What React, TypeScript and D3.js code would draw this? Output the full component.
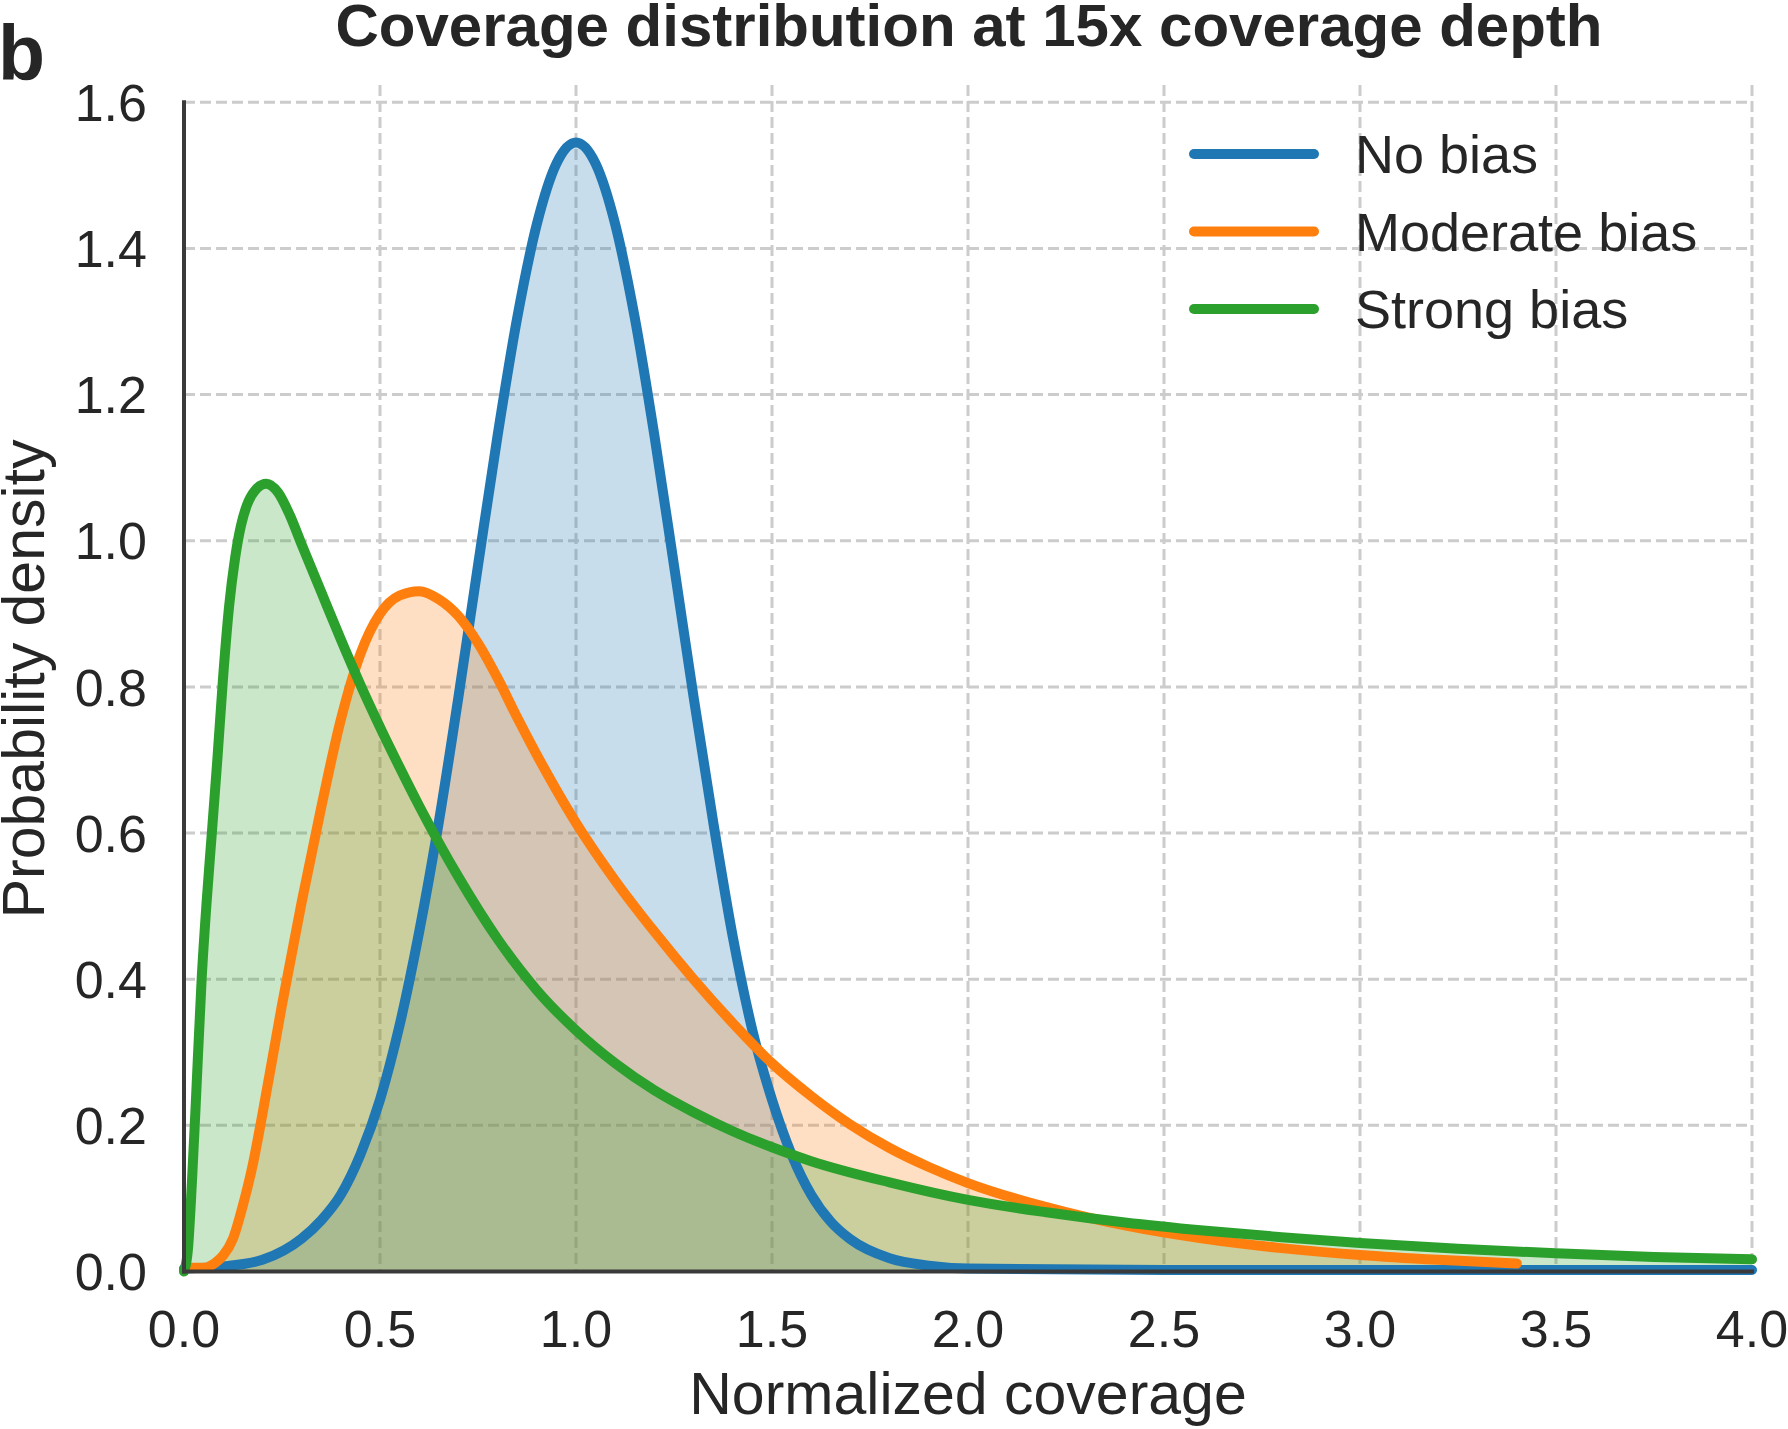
import * as d3 from 'd3'

// values
const noBiasX = [0, 0.1, 0.2, 0.3, 0.35, 0.4, 0.45, 0.5, 0.55, 0.6, 0.65, 0.7, 0.75, 0.8, 0.85, 0.9, 0.95, 1.0, 1.05, 1.1, 1.15, 1.2, 1.25, 1.3, 1.35, 1.4, 1.45, 1.5, 1.55, 1.6, 1.65, 1.7, 1.8, 1.9, 2.0, 2.5, 3.0, 3.5, 4.0]
const noBiasY = [0.004, 0.007, 0.016, 0.045, 0.07, 0.105, 0.16, 0.235, 0.337, 0.465, 0.615, 0.786, 0.966, 1.144, 1.305, 1.433, 1.516, 1.545, 1.516, 1.433, 1.305, 1.144, 0.966, 0.786, 0.615, 0.458, 0.33, 0.235, 0.16, 0.105, 0.068, 0.044, 0.018, 0.008, 0.004, 0.002, 0.002, 0.002, 0.002]

const moderateX = [0.015, 0.05, 0.08, 0.1, 0.125, 0.15, 0.175, 0.2, 0.25, 0.3, 0.35, 0.4, 0.45, 0.5, 0.55, 0.6, 0.65, 0.7, 0.75, 0.8, 0.85, 0.9, 0.95, 1.0, 1.1, 1.2, 1.3, 1.4, 1.5, 1.6, 1.7, 1.8, 1.9, 2.0, 2.2, 2.4, 2.6, 2.8, 3.0, 3.2, 3.4]
const moderateY = [0.005, 0.005, 0.012, 0.022, 0.045, 0.09, 0.145, 0.215, 0.365, 0.505, 0.635, 0.755, 0.845, 0.9, 0.925, 0.931, 0.92, 0.897, 0.86, 0.812, 0.758, 0.707, 0.659, 0.614, 0.535, 0.465, 0.4, 0.34, 0.285, 0.24, 0.201, 0.169, 0.143, 0.121, 0.088, 0.063, 0.045, 0.032, 0.0226, 0.016, 0.011]

const strongX = [0, 0.01, 0.02, 0.03, 0.045, 0.058, 0.071, 0.085, 0.1, 0.115, 0.13, 0.145, 0.16, 0.18, 0.21, 0.24, 0.27, 0.3, 0.35, 0.4, 0.45, 0.5, 0.55, 0.6, 0.65, 0.7, 0.8, 0.9, 1.0, 1.1, 1.2, 1.3, 1.4, 1.5, 1.6, 1.8, 2.0, 2.2, 2.4, 2.6, 2.8, 3.0, 3.25, 3.5, 3.75, 4.0]
const strongY = [0, 0.03, 0.12, 0.23, 0.4, 0.508, 0.6, 0.7, 0.815, 0.91, 0.975, 1.02, 1.048, 1.068, 1.078, 1.066, 1.035, 0.995, 0.93, 0.865, 0.803, 0.745, 0.69, 0.637, 0.587, 0.54, 0.455, 0.385, 0.33, 0.285, 0.248, 0.218, 0.192, 0.17, 0.151, 0.122, 0.098, 0.081, 0.067, 0.056, 0.047, 0.039, 0.031, 0.025, 0.02, 0.0167]

const seriesNames = ['No bias', 'Moderate bias', 'Strong bias']
const seriesColors = ['#1f77b4', '#ff7f0e', '#2ca02c']

const xTicks = [0, 0.5, 1.0, 1.5, 2.0, 2.5, 3.0, 3.5, 4.0]
const yTicks = [0, 0.2, 0.4, 0.6, 0.8, 1.0, 1.2, 1.4, 1.6]

type Pt = [number, number]

const font = '"Liberation Sans", Arial, Helvetica, sans-serif'
const textColor = '#262626'

export default function App() {
  const width = 1788
  const height = 1429

  const x = d3.scaleLinear().domain([0, 4]).range([184, 1752])
  const y = d3.scaleLinear().domain([0, 1.6]).range([1271.5, 102.3])
  const gridTop = 85

  const series = [
    d3.zip(noBiasX, noBiasY) as Pt[],
    d3.zip(moderateX, moderateY) as Pt[],
    d3.zip(strongX, strongY) as Pt[],
  ]

  const line = d3
    .line<Pt>()
    .x((d) => x(d[0]))
    .y((d) => y(d[1]))
    .curve(d3.curveMonotoneX)

  const area = d3
    .area<Pt>()
    .x((d) => x(d[0]))
    .y0(y(0))
    .y1((d) => y(d[1]))
    .curve(d3.curveMonotoneX)

  const fmt = d3.format('.1f')
  const [x0, x1] = x.range()

  return (
    <svg
      width={width}
      height={height}
      style={{ position: 'absolute', left: 0, top: 0, background: '#fff' }}
      fontFamily={font}
    >
      {/* grid */}
      <g stroke="#cccccc" strokeWidth={3} strokeDasharray="11 5" fill="none">
        {yTicks.slice(1).map((t) => (
          <line key={'gy' + t} x1={x0} x2={x1} y1={y(t)} y2={y(t)} />
        ))}
        {xTicks.slice(1).map((t) => (
          <line key={'gx' + t} x1={x(t)} x2={x(t)} y1={gridTop} y2={y(0)} />
        ))}
      </g>

      {/* fills */}
      {series.map((pts, i) => (
        <path key={'a' + i} d={area(pts) ?? ''} fill={seriesColors[i]} fillOpacity={0.25} stroke="none" />
      ))}

      {/* lines */}
      {series.map((pts, i) => (
        <path
          key={'l' + i}
          d={line(pts) ?? ''}
          fill="none"
          stroke={seriesColors[i]}
          strokeWidth={10}
          strokeLinecap="round"
          strokeLinejoin="round"
        />
      ))}

      {/* spines */}
      <g stroke="#3a3a3a" strokeWidth={4} strokeLinecap="square">
        <line x1={x0} x2={x0} y1={y(0)} y2={y(1.6)} />
        <line x1={x0} x2={x1} y1={y(0)} y2={y(0)} />
      </g>

      {/* tick labels */}
      <g fill={textColor} fontSize={52}>
        {yTicks.map((t) => (
          <text key={'ty' + t} x={147} y={y(t)} dy="0.36em" textAnchor="end">
            {fmt(t)}
          </text>
        ))}
        {xTicks.map((t) => (
          <text key={'tx' + t} x={x(t)} y={1347} textAnchor="middle">
            {fmt(t)}
          </text>
        ))}
      </g>

      {/* axis labels */}
      <text x={(x0 + x1) / 2} y={1414} textAnchor="middle" fontSize={59} fill={textColor}>
        Normalized coverage
      </text>
      <text
        transform={`translate(44,${(y(0) + y(1.6)) / 2 - 8}) rotate(-90)`}
        textAnchor="middle"
        fontSize={59}
        fill={textColor}
      >
        Probability density
      </text>

      {/* title and panel letter */}
      <text x={(x0 + x1) / 2 + 1} y={46} textAnchor="middle" fontSize={60} fontWeight="bold" fill={textColor}>
        Coverage distribution at 15x coverage depth
      </text>
      <text x={-2} y={80} fontSize={77} fontWeight="bold" fill={textColor}>
        b
      </text>

      {/* legend */}
      <g>
        {seriesNames.map((name, i) => {
          const ly = 154 + i * 77.5
          return (
            <g key={'lg' + i}>
              <line x1={1194} x2={1314} y1={ly} y2={ly} stroke={seriesColors[i]} strokeWidth={10} strokeLinecap="round" />
              <text x={1355} y={ly + 19} fontSize={54} fill={textColor}>
                {name}
              </text>
            </g>
          )
        })}
      </g>
    </svg>
  )
}
